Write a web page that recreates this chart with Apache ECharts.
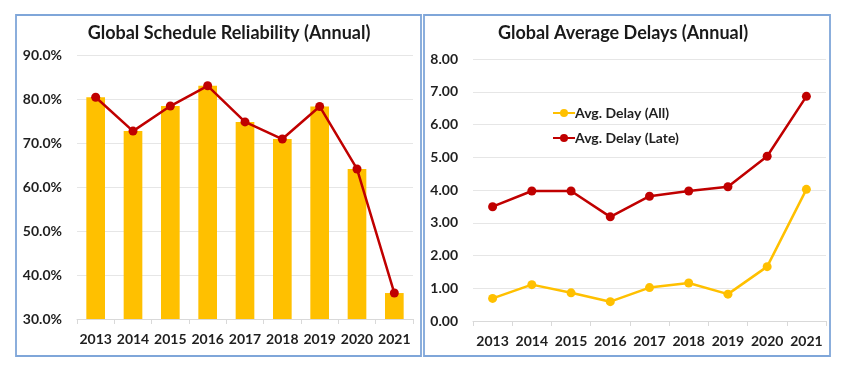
<!DOCTYPE html>
<html>
<head>
<meta charset="utf-8">
<script src="https://cdn.jsdelivr.net/npm/echarts@6/dist/echarts.min.js"></script>
<style>html,body{margin:0;padding:0;background:#fff;}#c{width:848px;height:373px;}</style>
</head>
<body>
<div id="c"></div>
<script>
const years = ['2013','2014','2015','2016','2017','2018','2019','2020','2021'];
const reliability = [80.4, 72.7, 78.4, 83.0, 74.8, 70.9, 78.3, 64.1, 35.9];
const delayAll = [0.69, 1.11, 0.86, 0.59, 1.02, 1.16, 0.82, 1.66, 4.02];
const delayLate = [3.49, 3.97, 3.97, 3.18, 3.81, 3.97, 4.10, 5.03, 6.86];
const titles = ['Global Schedule Reliability (Annual)', 'Global Average Delays (Annual)'];
const seriesNames = ['Avg. Delay (All)', 'Avg. Delay (Late)'];

const FONT = 'Lato';
const YELLOW = '#FFC000';
const RED = '#C00000';
const labelStyle = {fontFamily: FONT, fontWeight: 'bold', fontSize: 14, color: '#1f1f1f'};

const chart = echarts.init(document.getElementById('c'), null, {renderer: 'canvas'});
chart.setOption({
  animation: false,
  backgroundColor: '#fff',
  graphic: [
    {type: 'rect', shape: {x: 16, y: 15, width: 405, height: 341}, style: {fill: 'none', stroke: '#7FA6D9', lineWidth: 1.8}},
    {type: 'rect', shape: {x: 424, y: 15, width: 406, height: 341}, style: {fill: 'none', stroke: '#7FA6D9', lineWidth: 1.8}}
  ],
  title: [
    {text: titles[0], left: 224, top: 19, textAlign: 'center', textStyle: {fontFamily: FONT, fontWeight: 'bold', fontSize: 18, color: '#1a1a1a'}},
    {text: titles[1], left: 618, top: 19, textAlign: 'center', textStyle: {fontFamily: FONT, fontWeight: 'bold', fontSize: 18, color: '#1a1a1a'}}
  ],
  legend: {
    orient: 'vertical', left: 547, top: 101, itemGap: 11, itemWidth: 22, itemHeight: 10,
    data: seriesNames,
    textStyle: {fontFamily: FONT, fontWeight: 'bold', fontSize: 14, color: '#1f1f1f', padding: [0,0,0,-5]}
  },
  grid: [
    {left: 77, right: 435, top: 55, bottom: 54},
    {left: 473, right: 22, top: 59, bottom: 52}
  ],
  xAxis: [
    {type: 'category', gridIndex: 0, data: years, axisLine: {lineStyle: {color: '#d9d9d9'}}, axisTick: {show: true, length: 5, lineStyle: {color: '#d9d9d9'}}, axisLabel: Object.assign({margin: 13, interval: 0}, labelStyle)},
    {type: 'category', gridIndex: 1, data: years, axisLine: {lineStyle: {color: '#d9d9d9'}}, axisTick: {show: true, length: 5, lineStyle: {color: '#d9d9d9'}}, axisLabel: Object.assign({margin: 13, interval: 0}, labelStyle)}
  ],
  yAxis: [
    {type: 'value', gridIndex: 0, min: 30, max: 90, interval: 10, axisLine: {show: false}, axisTick: {show: false}, splitLine: {lineStyle: {color: '#e6e6e6'}}, axisLabel: Object.assign({margin: 15, formatter: v => v.toFixed(1) + '%'}, labelStyle)},
    {type: 'value', gridIndex: 1, min: 0, max: 8, interval: 1, axisLine: {show: false}, axisTick: {show: false}, splitLine: {lineStyle: {color: '#e6e6e6'}}, axisLabel: Object.assign({margin: 15, formatter: v => v.toFixed(2)}, labelStyle)}
  ],
  series: [
    {type: 'bar', xAxisIndex: 0, yAxisIndex: 0, data: reliability, barWidth: '50%', itemStyle: {color: YELLOW}},
    {type: 'line', xAxisIndex: 0, yAxisIndex: 0, data: reliability, symbol: 'circle', symbolSize: 9, lineStyle: {color: RED, width: 2.5}, itemStyle: {color: RED}},
    {name: seriesNames[0], type: 'line', xAxisIndex: 1, yAxisIndex: 1, data: delayAll, symbol: 'circle', symbolSize: 9, lineStyle: {color: YELLOW, width: 2.5}, itemStyle: {color: YELLOW}},
    {name: seriesNames[1], type: 'line', xAxisIndex: 1, yAxisIndex: 1, data: delayLate, symbol: 'circle', symbolSize: 9, lineStyle: {color: RED, width: 2.5}, itemStyle: {color: RED}}
  ]
});
</script>
</body>
</html>
